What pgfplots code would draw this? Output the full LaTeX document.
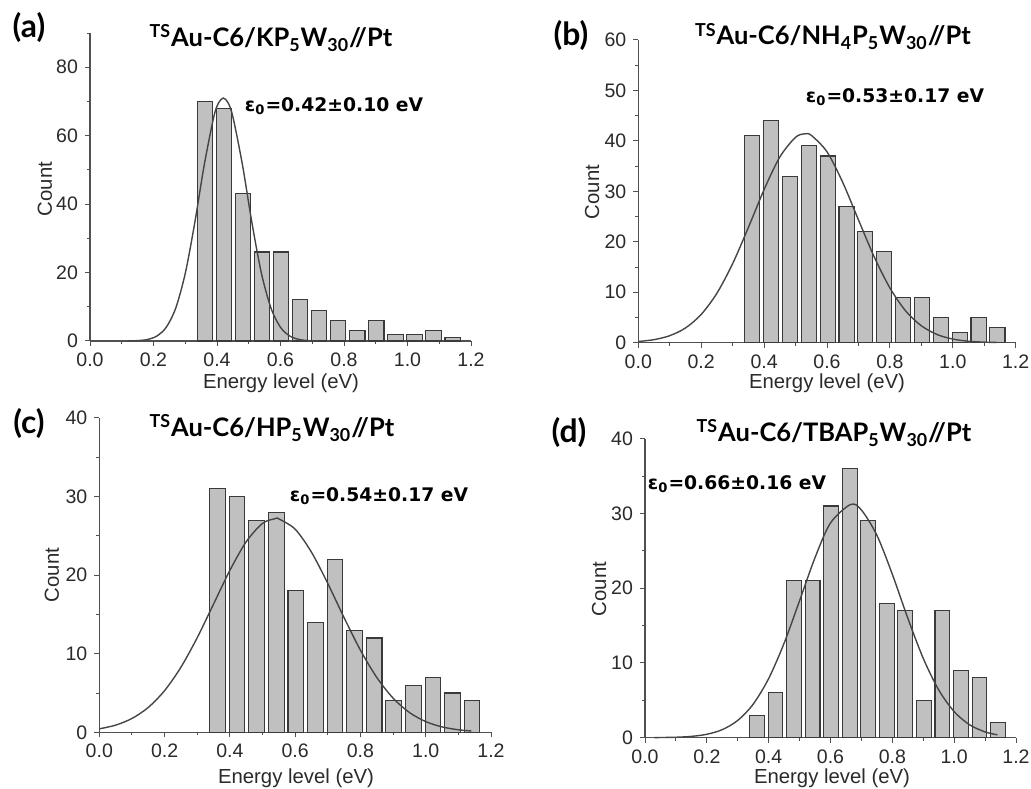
\documentclass[border=0pt]{standalone}
\usepackage{fontspec}
\setmainfont{Liberation Sans}
\newfontfamily\titlefont{Lato}
\newfontfamily\epsfont{DejaVu Sans}
\usepackage{pgfplots}
\pgfplotsset{compat=1.18}
\definecolor{barfill}{HTML}{C0C0C0}
\definecolor{bardraw}{HTML}{3A3A3A}
\definecolor{fitline}{HTML}{454545}
\definecolor{axcol}{HTML}{505050}
\definecolor{txtcol}{HTML}{2A2A2A}
\pgfplotsset{
  hist/.style={
    scale only axis,
    xmin=0, xmax=1.2, ymin=0,
    axis x line*=bottom, axis y line*=left,
    axis line style={axcol, line width=0.6bp, -},
    xtick={0,0.2,0.4,0.6,0.8,1.0,1.2},
    minor xtick={0.1,0.3,0.5,0.7,0.9,1.1},
    xticklabel style={/pgf/number format/fixed, /pgf/number format/fixed zerofill, /pgf/number format/precision=1},
    tick align=outside,
    major tick length=2.5bp, minor tick length=1.5bp,
    every tick/.style={axcol, line width=0.5bp},
    ticklabel style={font=\fontsize{9.8}{11}\selectfont, text=txtcol},
    /pgf/number format/assume math mode=true,
    clip=false,
  },
  barstyle/.style={ybar, bar width=0.048, fill=barfill, draw=bardraw, line width=0.55bp},
  fitstyle/.style={smooth, no marks, fitline, line width=0.7bp},
}
\newcommand{\ttl}{\titlefont\bfseries\fontsize{12.8}{14}\selectfont}
\newcommand{\eps}{\epsfont\bfseries\fontsize{9.4}{11}\selectfont}
\newcommand{\lab}{\titlefont\bfseries\fontsize{16}{18}\selectfont}
\newcommand{\axl}{\fontsize{10.2}{12}\selectfont\color{txtcol}}
\begin{document}
\begin{tikzpicture}
\useasboundingbox (0,0) rectangle (515.5bp,394.5bp);
% (a)
\begin{axis}[hist, at={(45bp,224bp)}, anchor=south west, width=190.5bp, height=154bp,
  ymax=90, ytick={0,20,40,60,80}, minor ytick={10,30,50,70,90}]
\addplot[barstyle] coordinates {(0.362,70) (0.422,68) (0.482,43) (0.542,26) (0.602,26) (0.662,12) (0.722,9) (0.782,6) (0.842,3) (0.902,6) (0.962,2) (1.022,2) (1.082,3) (1.142,1)};
\addplot[fitstyle] coordinates {(0.12,0.024) (0.15,0.109) (0.18,0.42) (0.21,1.41) (0.24,3.99) (0.27,9.61) (0.30,19.74) (0.33,34.56) (0.36,51.55) (0.39,65.54) (0.405,69.6) (0.42,71) (0.435,69.6) (0.45,65.54) (0.48,51.55) (0.51,34.56) (0.54,19.74) (0.57,9.61) (0.60,3.99) (0.63,1.41) (0.66,0.42) (0.69,0.109) (0.72,0.024)};
\end{axis}
% (b)
\begin{axis}[hist, at={(319.15bp,223.15bp)}, anchor=south west, width=188.7bp, height=151.35bp,
  ymax=60, ytick={0,10,20,30,40,50,60}, minor ytick={5,15,25,35,45,55}]
\addplot[barstyle] coordinates {(0.362,41) (0.422,44) (0.482,33) (0.542,39) (0.602,37) (0.662,27) (0.722,22) (0.782,18) (0.842,9) (0.902,9) (0.962,5) (1.022,2) (1.082,5) (1.142,3)};
\addplot[fitstyle] coordinates {(0.00,0.238) (0.05,0.602) (0.10,1.388) (0.15,2.919) (0.20,5.603) (0.25,9.81) (0.30,15.67) (0.35,22.84) (0.40,30.35) (0.45,36.81) (0.50,40.72) (0.53,41.4) (0.55,41.10) (0.60,37.84) (0.65,31.78) (0.70,24.35) (0.75,17.02) (0.80,10.85) (0.85,6.31) (0.90,3.351) (0.95,1.622) (1.00,0.716) (1.05,0.289) (1.10,0.106) (1.14,0.045)};
\end{axis}
% (c)
\begin{axis}[hist, at={(49.65bp,28.35bp)}, anchor=south west, width=195.85bp, height=157.15bp,
  ymax=40, ytick={0,10,20,30,40}, minor ytick={5,15,25,35}]
\addplot[barstyle] coordinates {(0.362,31) (0.422,30) (0.482,27) (0.542,28) (0.602,18) (0.662,14) (0.722,22) (0.782,13) (0.842,12) (0.902,4) (0.962,6) (1.022,7) (1.082,5) (1.142,4)};
\addplot[fitstyle] coordinates {(0.00,0.44) (0.05,0.911) (0.10,1.758) (0.15,3.163) (0.20,5.301) (0.25,8.277) (0.30,12.04) (0.35,16.32) (0.40,20.61) (0.45,24.25) (0.50,26.59) (0.54,27.2) (0.55,27.16) (0.60,25.85) (0.65,22.92) (0.70,18.94) (0.75,14.58) (0.80,10.45) (0.85,6.985) (0.90,4.349) (0.95,2.522) (1.00,1.364) (1.05,0.686) (1.10,0.322) (1.14,0.167)};
\end{axis}
% (d)
\begin{axis}[hist, at={(322.5bp,25.65bp)}, anchor=south west, width=185.5bp, height=149.5bp,
  ymax=40, ytick={0,10,20,30,40}, minor ytick={5,15,25,35}]
\addplot[barstyle] coordinates {(0.362,3) (0.422,6) (0.482,21) (0.542,21) (0.602,31) (0.662,36) (0.722,29) (0.782,18) (0.842,17) (0.902,5) (0.962,17) (1.022,9) (1.082,8) (1.142,2)};
\addplot[fitstyle] coordinates {(0.03,0.012) (0.10,0.061) (0.15,0.176) (0.20,0.457) (0.25,1.080) (0.30,2.313) (0.35,4.493) (0.40,7.916) (0.45,12.65) (0.50,18.33) (0.55,24.10) (0.60,28.73) (0.665,31.2) (0.70,30.46) (0.75,27.09) (0.80,21.86) (0.85,15.99) (0.90,10.61) (0.95,6.387) (1.00,3.486) (1.05,1.726) (1.10,0.774) (1.14,0.381)};
\end{axis}
% panel letters
\node at (14.5bp,380.5bp) {\lab (a)};
\node at (285.5bp,376.5bp) {\lab (b)};
\node at (14.5bp,182.5bp) {\lab (c)};
\node at (284.5bp,178bp) {\lab (d)};
% titles
\node[anchor=base] at (135.5bp,371.2bp) {\ttl\textsuperscript{TS}Au-C6/KP\textsubscript{5}W\textsubscript{30}//Pt};
\node[anchor=base] at (416.5bp,372bp) {\ttl\textsuperscript{TS}Au-C6/NH\textsubscript{4}P\textsubscript{5}W\textsubscript{30}//Pt};
\node[anchor=base] at (136bp,176.2bp) {\ttl\textsuperscript{TS}Au-C6/HP\textsubscript{5}W\textsubscript{30}//Pt};
\node[anchor=base] at (417bp,173.7bp) {\ttl\textsuperscript{TS}Au-C6/TBAP\textsubscript{5}W\textsubscript{30}//Pt};
% fit annotations
\node at (167bp,341.5bp) {\eps ε\textsubscript{0}=0.42±0.10 eV};
\node at (447.5bp,346bp) {\eps ε\textsubscript{0}=0.53±0.17 eV};
\node at (189.5bp,146.5bp) {\eps ε\textsubscript{0}=0.54±0.17 eV};
\node at (368.5bp,152.5bp) {\eps ε\textsubscript{0}=0.66±0.16 eV};
% axis labels
\node[rotate=90] at (22.5bp,300bp) {\axl Count};
\node[rotate=90] at (296bp,298.5bp) {\axl Count};
\node[rotate=90] at (26bp,107bp) {\axl Count};
\node[rotate=90] at (299.5bp,100bp) {\axl Count};
\node at (140.5bp,203bp) {\axl Energy level (eV)};
\node at (413.5bp,203bp) {\axl Energy level (eV)};
\node at (148bp,5.5bp) {\axl Energy level (eV)};
\node at (416bp,5.5bp) {\axl Energy level (eV)};
\end{tikzpicture}
\end{document}
